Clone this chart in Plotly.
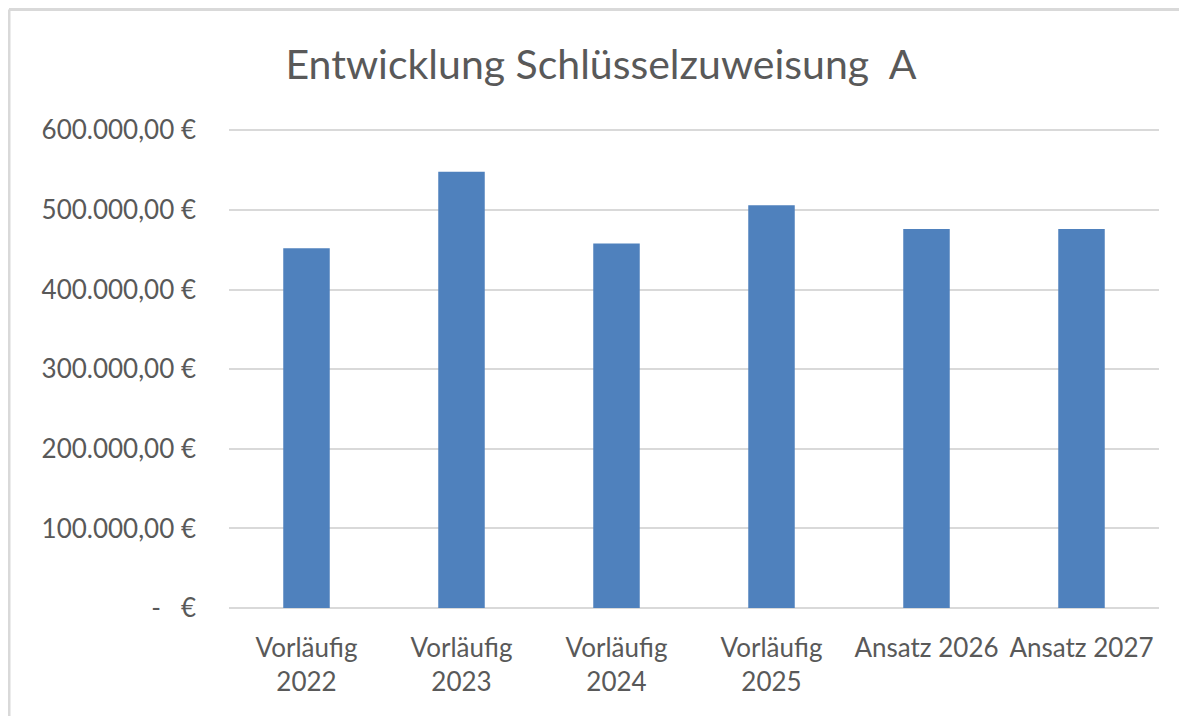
import plotly.graph_objects as go

categories = ["Vorläufig<br>2022", "Vorläufig<br>2023", "Vorläufig<br>2024",
              "Vorläufig<br>2025", "Ansatz 2026", "Ansatz 2027"]
values = [452000, 548000, 458000, 506000, 476000, 476000]
tick_vals = [0, 100000, 200000, 300000, 400000, 500000, 600000]
tick_text = ["-   €", "100.000,00 €", "200.000,00 €", "300.000,00 €",
             "400.000,00 €", "500.000,00 €", "600.000,00 €"]
title_text = "Entwicklung Schlüsselzuweisung  A"

FONT = "Lato"
GREY = "#595959"

fig = go.Figure(go.Bar(x=categories, y=values, marker_color="#4F81BD",
                       marker_line_width=0, width=0.30))

# page body has an 8px margin, so figure coords = screen coords - 8
W, H = 1179, 708
L, R, T, B = 221, 28, 120, 108
pw, ph = W - L - R, H - T - B

fig.update_layout(
    width=W, height=H,
    margin=dict(l=L, r=R, t=T, b=B),
    paper_bgcolor="white", plot_bgcolor="white",
    showlegend=False,
    title=dict(text=title_text, x=(601 - 8) / W, xanchor="center", xref="container",
               y=1 - (65 - 8) / H, yanchor="middle", yref="container",
               font=dict(family=FONT, size=41, color=GREY)),
    xaxis=dict(showgrid=False, showline=False, ticks="", ticklabelstandoff=22,
               tickfont=dict(family=FONT, size=26, color=GREY)),
    yaxis=dict(range=[0, 603000], tickvals=tick_vals, ticktext=tick_text,
               showgrid=True, gridcolor="#D9D9D9", gridwidth=2,
               zeroline=True, zerolinecolor="#D9D9D9", zerolinewidth=2,
               showline=False, ticks="", ticklabelstandoff=32,
               tickfont=dict(family=FONT, size=26, color=GREY)),
    bargap=0.7,
)

# outer chart frame (left and top edges visible)
fx0 = (1 - L) / pw
fy_top = (H - B - 1.5) / ph
fy_bot = (-B - 20) / ph
fx_right = (W + 20 - L) / pw
fig.add_shape(type="line", xref="paper", yref="paper", x0=fx0, x1=fx0,
              y0=fy_bot, y1=fy_top, line=dict(color="#D9D9D9", width=3))
fig.add_shape(type="line", xref="paper", yref="paper", x0=fx0, x1=fx_right,
              y0=fy_top, y1=fy_top, line=dict(color="#D9D9D9", width=3))

fig.write_html("out.html")
